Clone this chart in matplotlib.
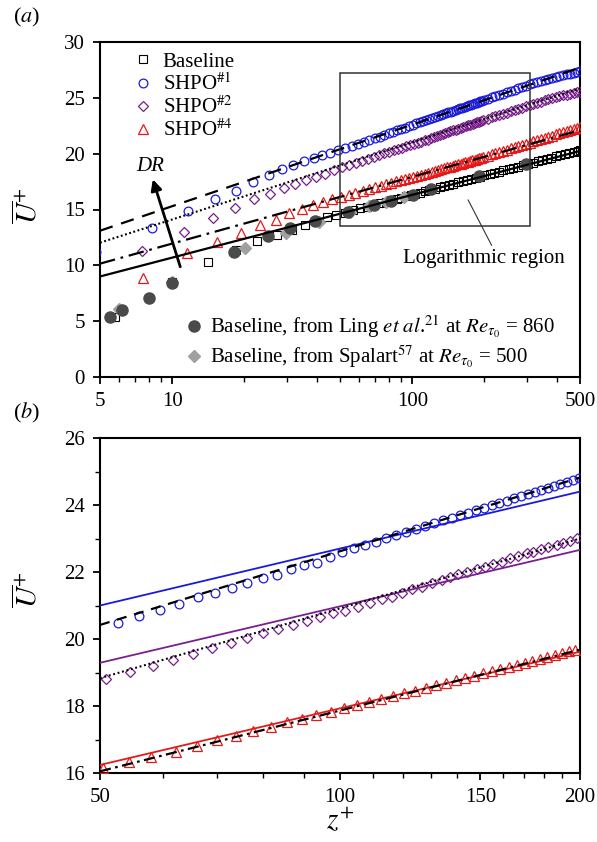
import matplotlib
matplotlib.use("Agg")
import matplotlib.pyplot as plt
from matplotlib.lines import Line2D
from matplotlib.patches import Rectangle
from matplotlib.ticker import FixedLocator, NullFormatter, FixedFormatter

plt.rcParams['font.family'] = ['Liberation Serif', 'DejaVu Serif']
plt.rcParams['mathtext.fontset'] = 'stix'

# ---------------- data ----------------
baseline_z = [5.8, 10.0, 14.1, 18.4, 22.5, 27.2, 31.4, 35.6, 39.8, 44.0, 48.2, 52.4, 56.6, 60.8, 65.0,
              69.2, 73.4, 77.6, 81.8, 86.0, 90.2, 94.4, 98.6, 103, 108, 113, 118, 124, 130, 136, 142,
              148, 155, 162, 169, 176, 184, 192, 200, 210, 220, 230, 240, 252, 264, 276, 290, 304,
              318, 333, 348, 364, 380, 397, 414, 432, 450, 470, 490, 500]
baseline_u = [5.4, 8.53, 10.32, 11.4, 12.2, 12.7, 13.2, 13.6, 14.0, 14.29, 14.52, 14.73, 14.92, 15.10,
              15.26, 15.42, 15.56, 15.70, 15.83, 15.96, 16.07, 16.19, 16.29, 16.40, 16.52, 16.63, 16.74,
              16.86, 16.98, 17.09, 17.20, 17.30, 17.42, 17.53, 17.63, 17.73, 17.84, 17.95, 18.05, 18.17,
              18.28, 18.40, 18.50, 18.62, 18.74, 18.85, 18.97, 19.09, 19.20, 19.31, 19.42, 19.53, 19.64,
              19.75, 19.85, 19.96, 20.06, 20.17, 20.27, 20.32]

shpo1_z = [4.8, 8.2, 11.6, 15.0, 18.4, 21.8, 25.3, 28.6, 32.0, 35.4, 38.8, 42.2, 45.6, 49.1,
           52.7, 56.0, 59.5, 62.9, 66.3, 69.7, 73.1, 76.4, 80.1, 83.3, 86.7, 90.2, 93.6, 97.2,
           100.6, 104.0, 107.4, 110.8, 114.2, 117.6, 121.0, 124.4, 127.8, 131.2, 134.6, 138.0,
           141.4, 144.8, 148.2, 151.6, 155.0, 158.4, 161.8, 165.2, 168.6, 172.0, 175.4, 178.8,
           182.2, 185.6, 189.0, 192.4, 195.8, 199.2, 206, 214, 222, 230, 239, 248, 257, 267, 277,
           287, 298, 309, 320, 332, 344, 356, 369, 382, 396, 410, 425, 440, 455, 470, 485, 500]
shpo1_u = [11.2, 13.37, 14.86, 15.94, 16.68, 17.49, 18.05, 18.62, 19.0, 19.3, 19.62, 19.88, 20.1, 20.3,
           20.49, 20.70, 20.87, 21.04, 21.26, 21.36, 21.51, 21.66, 21.83, 21.91, 22.08, 22.21, 22.28, 22.44,
           22.60, 22.71, 22.81, 22.91, 23.01, 23.10, 23.20, 23.28, 23.37, 23.46, 23.54, 23.62,
           23.70, 23.77, 23.85, 23.92, 23.99, 24.06, 24.13, 24.20, 24.26, 24.33, 24.39, 24.45,
           24.51, 24.57, 24.63, 24.69, 24.75, 24.80, 24.91, 25.03, 25.15, 25.26, 25.38, 25.50, 25.62,
           25.74, 25.86, 25.97, 26.09, 26.21, 26.32, 26.42, 26.52, 26.62, 26.72, 26.82, 26.89, 26.96,
           27.03, 27.10, 27.17, 27.23, 27.29, 27.36]

shpo2_z = [7.5, 11.2, 14.8, 18.2, 21.9, 25.6, 29.3, 32.6, 36.2, 39.8, 43.5, 47.2, 50.9,
           54.5, 58.2, 61.8, 65.5, 69.1, 72.9, 76.4, 80.1, 83.6, 87.2, 90.8, 94.4, 98.1,
           101.5, 105.4, 109.0, 112.8, 116.1, 119.5, 123.0, 126.6, 130.3, 134.2, 137.4, 140.7,
           144.2, 148.4, 152.0, 155.7, 159.6, 163.4, 167.4, 171.5, 174.8, 178.5, 182.5, 187.0,
           190.5, 194.3, 198.1, 206, 214, 222, 230, 239, 248, 257, 267, 277, 287, 298, 309, 320,
           332, 344, 356, 369, 382, 396, 410, 425, 440, 455, 470, 485, 500]
shpo2_u = [11.3, 12.95, 14.2, 15.16, 15.9, 16.4, 16.9, 17.3, 17.62, 17.92, 18.2, 18.52, 18.82,
           19.02, 19.20, 19.37, 19.55, 19.72, 19.87, 20.02, 20.19, 20.30, 20.42, 20.53, 20.65, 20.77,
           20.84, 20.96, 21.07, 21.19, 21.26, 21.38, 21.48, 21.56, 21.66, 21.76, 21.84, 21.93,
           22.01, 22.09, 22.16, 22.24, 22.31, 22.41, 22.48, 22.56, 22.61, 22.69, 22.76, 22.81,
           22.88, 22.93, 23.01, 23.13, 23.24, 23.35, 23.46, 23.57, 23.68, 23.79, 23.91, 24.02, 24.12,
           24.23, 24.34, 24.45, 24.56, 24.67, 24.77, 24.88, 24.98, 25.06, 25.14, 25.22, 25.29, 25.36,
           25.43, 25.50, 25.56]

shpo4_z = [7.58, 11.56, 15.3, 19.3, 23.2, 27.0, 30.8, 34.7, 38.6, 42.5, 46.4, 50.5, 54.4, 58.0,
           62.2, 66.1, 70.0, 74.0, 77.8, 81.9, 85.7, 89.6, 93.4, 97.3, 101.1, 105.0, 108.8, 112.7,
           116.5, 120.4, 124.2, 128.1, 131.9, 135.8, 139.6, 143.5, 147.3, 151.2, 155.0, 158.9,
           162.7, 166.6, 170.4, 174.3, 178.1, 182.0, 185.8, 189.7, 193.5, 197.4, 206, 214, 222, 230,
           239, 248, 257, 267, 277, 287, 298, 309, 320, 332, 344, 356, 369, 382, 396, 410, 425, 440,
           455, 470, 485, 500]
shpo4_u = [8.89, 11.07, 12.11, 12.86, 13.6, 14.1, 14.65, 15.05, 15.4, 15.66, 15.92, 16.14, 16.32, 16.49,
           16.64, 16.81, 16.99, 17.10, 17.25, 17.38, 17.51, 17.61, 17.72, 17.82, 17.93, 18.02, 18.12, 18.21,
           18.30, 18.38, 18.46, 18.54, 18.62, 18.70, 18.77, 18.84, 18.91, 18.98, 19.04, 19.11,
           19.17, 19.23, 19.29, 19.35, 19.41, 19.47, 19.52, 19.57, 19.63, 19.68, 19.82, 19.93, 20.04, 20.14,
           20.25, 20.36, 20.47, 20.58, 20.68, 20.79, 20.89, 21.00, 21.10, 21.21, 21.31, 21.41, 21.51, 21.61,
           21.72, 21.82, 21.92, 22.02, 22.12, 22.22, 22.31, 22.40]

ling_z = [5.5, 6.2, 8.0, 10.0, 18.1, 25.0, 31.0, 39.3, 54.2, 69.4, 81.5, 100.6, 120.0, 190.0, 298.0]
ling_u = [5.34, 6.0, 7.05, 8.39, 11.2, 12.6, 13.3, 14.0, 14.75, 15.4, 15.8, 16.3, 16.8, 18.0, 19.04]
spalart_z = [6.0, 10.0, 20.1, 29.8, 40.8, 55.0, 66.0, 78.0, 92.0]
spalart_u = [6.06, 8.55, 11.55, 12.86, 13.9, 14.8, 15.3, 15.7, 16.15]

# log-law fit lines (end points)
fit_a_z = [5, 500]
fit_base_a = [9.0, 20.24]
fit_shpo4_a = [10.15, 22.1]
fit_shpo2_a = [12.03, 25.85]
fit_shpo1_a = [13.1, 27.7]

fit_b_z = [50, 200]
kappa_shpo1_b = [21.0, 24.4]
kappa_shpo2_b = [19.29, 22.66]
kappa_shpo4_b = [16.24, 19.62]
fit_shpo1_b = [20.42, 24.82]
fit_shpo2_b = [18.83, 23.0]
fit_shpo4_b = [16.05, 19.68]

labels_top = ['Baseline', r'SHPO$^{\#1}$', r'SHPO$^{\#2}$', r'SHPO$^{\#4}$']
label_ling = r'Baseline, from Ling $\mathit{et\ al}$.$^{21}$ at $Re_{\tau_0}$ = 860'
label_spalart = r'Baseline, from Spalart$^{57}$ at $Re_{\tau_0}$ = 500'

# ---------------- styles ----------------
BLUE = '#1a1adc'
PURPLE = '#7a1f8e'
RED = '#e41a1a'
DARK = '#4a4a4a'
LIGHT = '#a0a0a0'
FS = 15

fig = plt.figure(figsize=(5.97, 8.42), dpi=100)
W, H = 597.0, 842.0
ax1 = fig.add_axes([100 / W, 1 - 377 / H, 480 / W, 335 / H])
ax2 = fig.add_axes([100 / W, 1 - 773 / H, 480 / W, 335 / H])

mk_sq = dict(marker='s', ms=5.5, mfc='none', mec='k', mew=0.8, ls='none')
mk_c = dict(marker='o', ms=6.3, mfc='none', mec=BLUE, mew=0.9, ls='none')
mk_d = dict(marker='D', ms=5.2, mfc='none', mec=PURPLE, mew=0.9, ls='none')
mk_t = dict(marker='^', ms=6.8, mfc='none', mec=RED, mew=0.9, ls='none')
mk_ling = dict(marker='o', ms=8, mfc=DARK, mec=DARK, ls='none')
mk_spal = dict(marker='D', ms=6.5, mfc=LIGHT, mec=LIGHT, ls='none')

# ---------------- panel (a) ----------------
ax1.set_xscale('log')
ax1.plot(baseline_z, baseline_u, zorder=2, **mk_sq)
ax1.plot(spalart_z, spalart_u, zorder=3, **mk_spal)
ax1.plot(ling_z, ling_u, zorder=4, **mk_ling)
ax1.plot(shpo4_z, shpo4_u, zorder=3, **mk_t)
ax1.plot(shpo2_z, shpo2_u, zorder=3, **mk_d)
ax1.plot(shpo1_z, shpo1_u, zorder=3, **mk_c)

lw = 1.6
ax1.plot(fit_a_z, fit_base_a, color='k', lw=lw, zorder=5)
ax1.plot(fit_a_z, fit_shpo4_a, color='k', lw=lw, dashes=(7, 2.6, 1.2, 2.6), zorder=5)
ax1.plot(fit_a_z, fit_shpo2_a, color='k', lw=1.5, dashes=(0.9, 1.2), zorder=5)
ax1.plot(fit_a_z, fit_shpo1_a, color='k', lw=lw, dashes=(6, 4), zorder=5)

ax1.add_patch(Rectangle((50, 13.5), 260, 13.7, fill=False, ec='#333333', lw=1.1, zorder=6))
ax1.plot([171, 214], [15.85, 11.8], color='#333333', lw=0.8, zorder=6)
ax1.text(198, 10.63, 'Logarithmic region', fontsize=FS, ha='center', va='center')

ax1.annotate('', xy=(8.3, 17.7), xytext=(10.8, 9.87),
             arrowprops=dict(arrowstyle='-|>', color='k', lw=2.0, mutation_scale=16, shrinkA=0, shrinkB=0))
ax1.text(8.07, 18.85, 'DR', fontsize=FS, style='italic', ha='center', va='center')

ax1.set_xlim(5, 500)
ax1.set_ylim(0, 30)
ax1.xaxis.set_major_locator(FixedLocator([5, 10, 100, 500]))
ax1.xaxis.set_major_formatter(FixedFormatter(['5', '10', '100', '500']))
ax1.xaxis.set_minor_locator(FixedLocator([6, 7, 8, 9, 20, 30, 40, 50, 60, 70, 80, 90, 200, 300, 400]))
ax1.xaxis.set_minor_formatter(NullFormatter())
ax1.set_yticks([0, 5, 10, 15, 20, 25, 30])

h_top = [Line2D([], [], **mk_sq), Line2D([], [], **mk_c), Line2D([], [], **mk_d), Line2D([], [], **mk_t)]
leg1 = ax1.legend(h_top, labels_top, loc='upper left', bbox_to_anchor=(0.068, 0.97), frameon=False,
                  fontsize=FS, handlelength=1.0, handletextpad=0.45, labelspacing=0.08,
                  borderpad=0, borderaxespad=0)
ax1.add_artist(leg1)
h_bot = [Line2D([], [], **mk_ling), Line2D([], [], **mk_spal)]
ax1.legend(h_bot, [label_ling, label_spalart], loc='upper left', bbox_to_anchor=(0.174, 0.19),
           frameon=False, fontsize=FS, handlelength=1.0, handletextpad=0.25, labelspacing=0.15,
           borderpad=0, borderaxespad=0)

ax1.set_ylabel(r'$\overline{U}^{+}$', fontsize=21)
ax1.yaxis.set_label_coords(-0.12, 0.51)

# ---------------- panel (b) ----------------
ax2.set_xscale('log')
ax2.plot(shpo4_z, shpo4_u, zorder=3, **mk_t)
ax2.plot(shpo2_z, shpo2_u, zorder=3, **mk_d)
ax2.plot(shpo1_z, shpo1_u, zorder=3, **mk_c)

ax2.plot(fit_b_z, kappa_shpo1_b, color=BLUE, lw=1.3, zorder=4)
ax2.plot(fit_b_z, kappa_shpo2_b, color=PURPLE, lw=1.3, zorder=4)
ax2.plot(fit_b_z, kappa_shpo4_b, color=RED, lw=1.3, zorder=4)
ax2.plot(fit_b_z, fit_shpo1_b, color='k', lw=1.6, dashes=(4.5, 3.5), zorder=5)
ax2.plot(fit_b_z, fit_shpo2_b, color='k', lw=1.5, dashes=(0.9, 1.3), zorder=5)
ax2.plot(fit_b_z, fit_shpo4_b, color='k', lw=1.6, dashes=(5, 2, 1.2, 2), zorder=5)

ax2.set_xlim(50, 200)
ax2.set_ylim(16, 26)
ax2.xaxis.set_major_locator(FixedLocator([50, 100, 150, 200]))
ax2.xaxis.set_major_formatter(FixedFormatter(['50', '100', '150', '200']))
ax2.xaxis.set_minor_locator(FixedLocator([60, 70, 80, 90, 110, 120, 130, 140, 160, 170, 180, 190]))
ax2.xaxis.set_minor_formatter(NullFormatter())
ax2.set_yticks([16, 18, 20, 22, 24, 26])
ax2.set_yticks([17, 19, 21, 23, 25], minor=True)

ax2.set_ylabel(r'$\overline{U}^{+}$', fontsize=21)
ax2.yaxis.set_label_coords(-0.12, 0.546)
ax2.set_xlabel(r'$z^{+}$', fontsize=21)
ax2.xaxis.set_label_coords(0.5, -0.10)

for ax in (ax1, ax2):
    for s in ax.spines.values():
        s.set_linewidth(1.5)
    ax.tick_params(which='both', direction='out', top=False, right=False, labelsize=FS)
    ax.tick_params(which='major', length=5, width=1.3, pad=6)
    ax.tick_params(which='minor', length=3.5, width=1.0)

fig.text(27 / W, 1 - 17 / H, r'($\mathit{a}$)', fontsize=FS + 1, ha='center', va='center')
fig.text(27 / W, 1 - 413 / H, r'($\mathit{b}$)', fontsize=FS + 1, ha='center', va='center')

fig.savefig('out.png', dpi=100)
